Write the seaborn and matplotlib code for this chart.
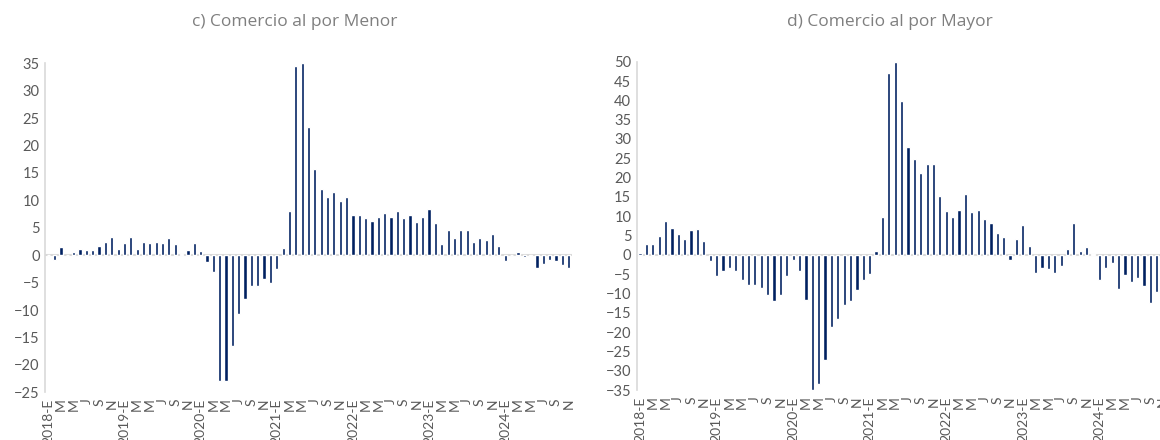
import pandas as pd
import matplotlib
matplotlib.use("Agg")
import matplotlib.pyplot as plt
import seaborn as sns

# =============================================
# Datos (variación anual %, ene-2018 a nov-2024)
# =============================================
meses = [str(p) for p in pd.period_range("2018-01", "2024-11", freq="M")]

anios = [2018, 2019, 2020, 2021, 2022, 2023, 2024]
etiquetas = [lab for a in anios for lab in [f"{a}-E", "M", "M", "J", "S", "N"]]

menor = [
    0.1, -0.8, 1.5, 0.1, 0.5, 1.2, 1.0, 1.0, 1.7, 2.5, 3.4, 1.2,
    2.2, 3.4, 1.2, 2.5, 2.2, 2.5, 2.2, 3.2, 2.0, 0.3, 1.0, 2.2,
    0.7, -1.3, -3.0, -22.9, -22.9, -16.6, -10.7, -8.0, -5.6, -5.6, -4.4, -5.1,
    -2.5, 1.3, 8.0, 34.6, 35.1, 23.3, 15.7, 12.1, 10.6, 11.5, 9.8, 10.6,
    7.4, 7.4, 6.8, 6.3, 7.0, 7.7, 7.0, 8.0, 6.8, 7.4, 6.0, 7.0,
    8.4, 5.8, 2.0, 4.6, 3.2, 4.6, 4.6, 2.5, 3.2, 2.7, 3.9, 1.7,
    -1.1, 0.1, 0.5, -0.3, -0.1, -2.3, -1.6, -0.9, -1.1, -1.8, -2.3,
]

mayor = [
    0.4, 2.7, 2.7, 5.0, 8.7, 7.0, 5.4, 4.0, 6.3, 6.7, 3.7, -1.6,
    -5.6, -4.3, -3.4, -4.3, -6.6, -7.7, -7.7, -8.6, -10.3, -12.0, -10.3, -5.6,
    -1.3, -4.3, -11.8, -35.0, -33.4, -27.1, -18.8, -16.5, -13.1, -12.0, -9.0, -6.6,
    -4.9, 0.9, 9.8, 47.0, 50.0, 39.9, 27.8, 24.7, 21.3, 23.6, 23.6, 15.1,
    11.4, 9.8, 11.7, 15.8, 11.1, 11.7, 9.3, 8.3, 5.6, 4.6, -1.3, 4.0,
    7.8, 2.3, -4.7, -3.4, -3.7, -4.7, -2.9, 1.5, 8.3, 0.9, 2.0, 0.3,
    -6.6, -3.4, -2.1, -8.8, -5.3, -7.1, -6.0, -8.0, -12.4, -9.7, -4.2,
]

df = pd.DataFrame({"mes": meses, "menor": menor, "mayor": mayor})

# =============================================
# Estilo
# =============================================
sns.set_style("white")
plt.rcParams["font.family"] = ["Lato", "DejaVu Sans"]

AZUL = "#002060"
GRIS_TXT = "#595959"
GRIS_TIT = "#7f7f7f"
GRIS_LIN = "#d9d9d9"

fig = plt.figure(figsize=(11.6, 4.4), dpi=100)
ax_c = fig.add_axes([0.0389, 0.1084, 0.4541, 0.7477])
ax_d = fig.add_axes([0.549, 0.1136, 0.4565, 0.7462])

paneles = [
    (ax_c, "menor", (-25, 35), "c) Comercio al por Menor", 295),
    (ax_d, "mayor", (-35, 50), "d) Comercio al por Mayor", 890),
]

for ax, col, (ymin, ymax), titulo, xt in paneles:
    sns.barplot(data=df, x="mes", y=col, color=AZUL, saturation=1,
                width=0.5, errorbar=None, ax=ax, zorder=3)
    ax.axhline(0, color=GRIS_LIN, lw=1.5, zorder=2)
    ax.set_ylim(ymin, ymax)
    ax.set_yticks(range(ymin, ymax + 1, 5))
    ax.set_xlim(-0.5, len(meses) - 0.5)
    ax.set_xticks(range(0, len(meses), 2))
    ax.set_xticklabels(etiquetas, rotation=90, va="top", ha="center")
    ax.set_xlabel("")
    ax.set_ylabel("")
    ax.tick_params(axis="both", length=0, colors=GRIS_TXT)
    ax.tick_params(axis="y", pad=4, labelsize=10.5)
    ax.tick_params(axis="x", pad=4.5, labelsize=10)
    for s in ["top", "right", "bottom"]:
        ax.spines[s].set_visible(False)
    ax.spines["left"].set_color(GRIS_LIN)
    ax.spines["left"].set_linewidth(1.2)
    fig.text(xt / 1160, 1 - 22 / 440, titulo, ha="center", va="center",
             fontsize=12.5, color=GRIS_TIT,
             family=["Open Sans", "DejaVu Sans"])

fig.savefig("out.png", dpi=100)
plt.close(fig)
